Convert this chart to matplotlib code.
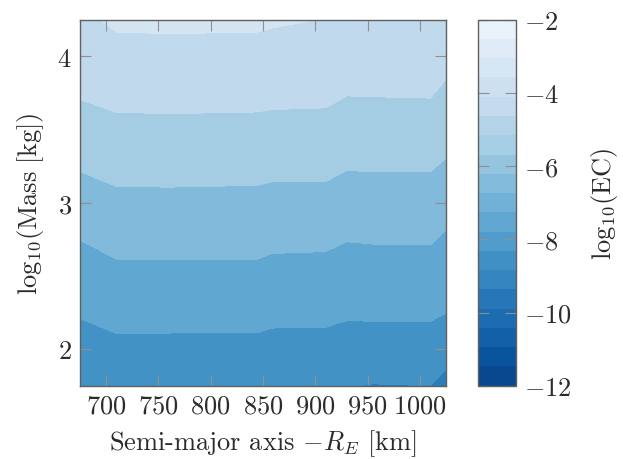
import numpy as np
import matplotlib
import matplotlib.pyplot as plt
from matplotlib.colors import ListedColormap, BoundaryNorm, Normalize
from matplotlib.cm import ScalarMappable

plt.rcParams['font.family'] = 'serif'
plt.rcParams['font.serif'] = ['cmr10']
plt.rcParams['mathtext.fontset'] = 'cm'
plt.rcParams['axes.formatter.use_mathtext'] = True
plt.rcParams['font.size'] = 19

# semi-major axis minus earth radius [km]
sma = [675, 710, 760, 845, 858, 910, 930, 955, 1010, 1025]
# log10 of mass [kg]
logmass = [1.75, 2.25, 2.75, 3.25, 3.75, 4.25]
# log10(EC), one row per mass value, one column per sma value
ec_175 = [-8.90, -8.70, -8.72, -8.72, -8.78, -8.78, -8.98, -9.03, -9.00, -9.29]
ec_225 = [-7.92, -7.72, -7.72, -7.73, -7.79, -7.80, -7.88, -7.86, -7.86, -7.99]
ec_275 = [-6.99, -6.73, -6.72, -6.73, -6.81, -6.84, -6.97, -6.94, -6.93, -7.13]
ec_325 = [-5.92, -5.72, -5.71, -5.74, -5.78, -5.78, -5.94, -5.92, -5.92, -6.11]
ec_375 = [-4.91, -4.74, -4.72, -4.74, -4.77, -4.80, -4.96, -4.95, -4.93, -5.17]
ec_425 = [-4.20, -3.85, -3.83, -3.85, -3.90, -4.02, -4.09, -4.09, -4.07, -4.26]

levels = np.arange(-12, -1, 1)
cbar_ticks = [-12, -10, -8, -6, -4, -2]

Z = np.array([ec_175, ec_225, ec_275, ec_325, ec_375, ec_425])
X, Y = np.meshgrid(sma, logmass)

cmap = ListedColormap(plt.cm.Blues(np.linspace(0.93, 0.05, 256)))
norm = Normalize(-12, -2)

txt = '#2b2b2b'
spine_c = '#606060'
tick_c = '#909090'

fig = plt.figure(figsize=(6.23, 4.6), dpi=100)
ax = fig.add_axes([0.1284, 0.1593, 0.5875, 0.7957])
cax = fig.add_axes([0.7673, 0.1593, 0.061, 0.7957])

ax.contourf(X, Y, Z, levels=levels, cmap=cmap, norm=norm)
ax.set_xlim(675, 1025)
ax.set_ylim(1.75, 4.25)
ax.set_xticks([700, 750, 800, 850, 900, 950, 1000])
ax.set_yticks([2, 3, 4])
ax.tick_params(direction='in', top=True, right=True, length=8, width=0.8,
               color=tick_c, labelcolor=txt, pad=6)
for s in ax.spines.values():
    s.set_color(spine_c)
    s.set_linewidth(1.0)
ax.set_xlabel(r'Semi-major axis $-R_E$ [km]', color=txt, labelpad=7)
ax.set_ylabel(r'$\mathrm{log}_{10}(\mathrm{Mass\ [kg]})$', color=txt, labelpad=8)

# sampled colorbar, 19 bands
bounds = np.linspace(-12, -2, 20)
mids = (bounds[:-1] + bounds[1:]) / 2
cb_cmap = ListedColormap(cmap(norm(mids)))
sm = ScalarMappable(norm=BoundaryNorm(bounds, cb_cmap.N), cmap=cb_cmap)
cb = fig.colorbar(sm, cax=cax, ticks=cbar_ticks)
cb.outline.set_edgecolor(spine_c)
cb.outline.set_linewidth(1.0)
cax.minorticks_off()
cax.tick_params(direction='in', left=True, right=True, length=8, width=0.8,
                color=tick_c, labelcolor=txt, pad=6)
cax.yaxis.set_ticklabels([r'$-12$', r'$-10$', r'$-8$', r'$-6$', r'$-4$', r'$-2$'])
cb.set_label(r'$\mathrm{log}_{10}(\mathrm{EC})$', color=txt, labelpad=12)

fig.savefig('out.png', dpi=100)
